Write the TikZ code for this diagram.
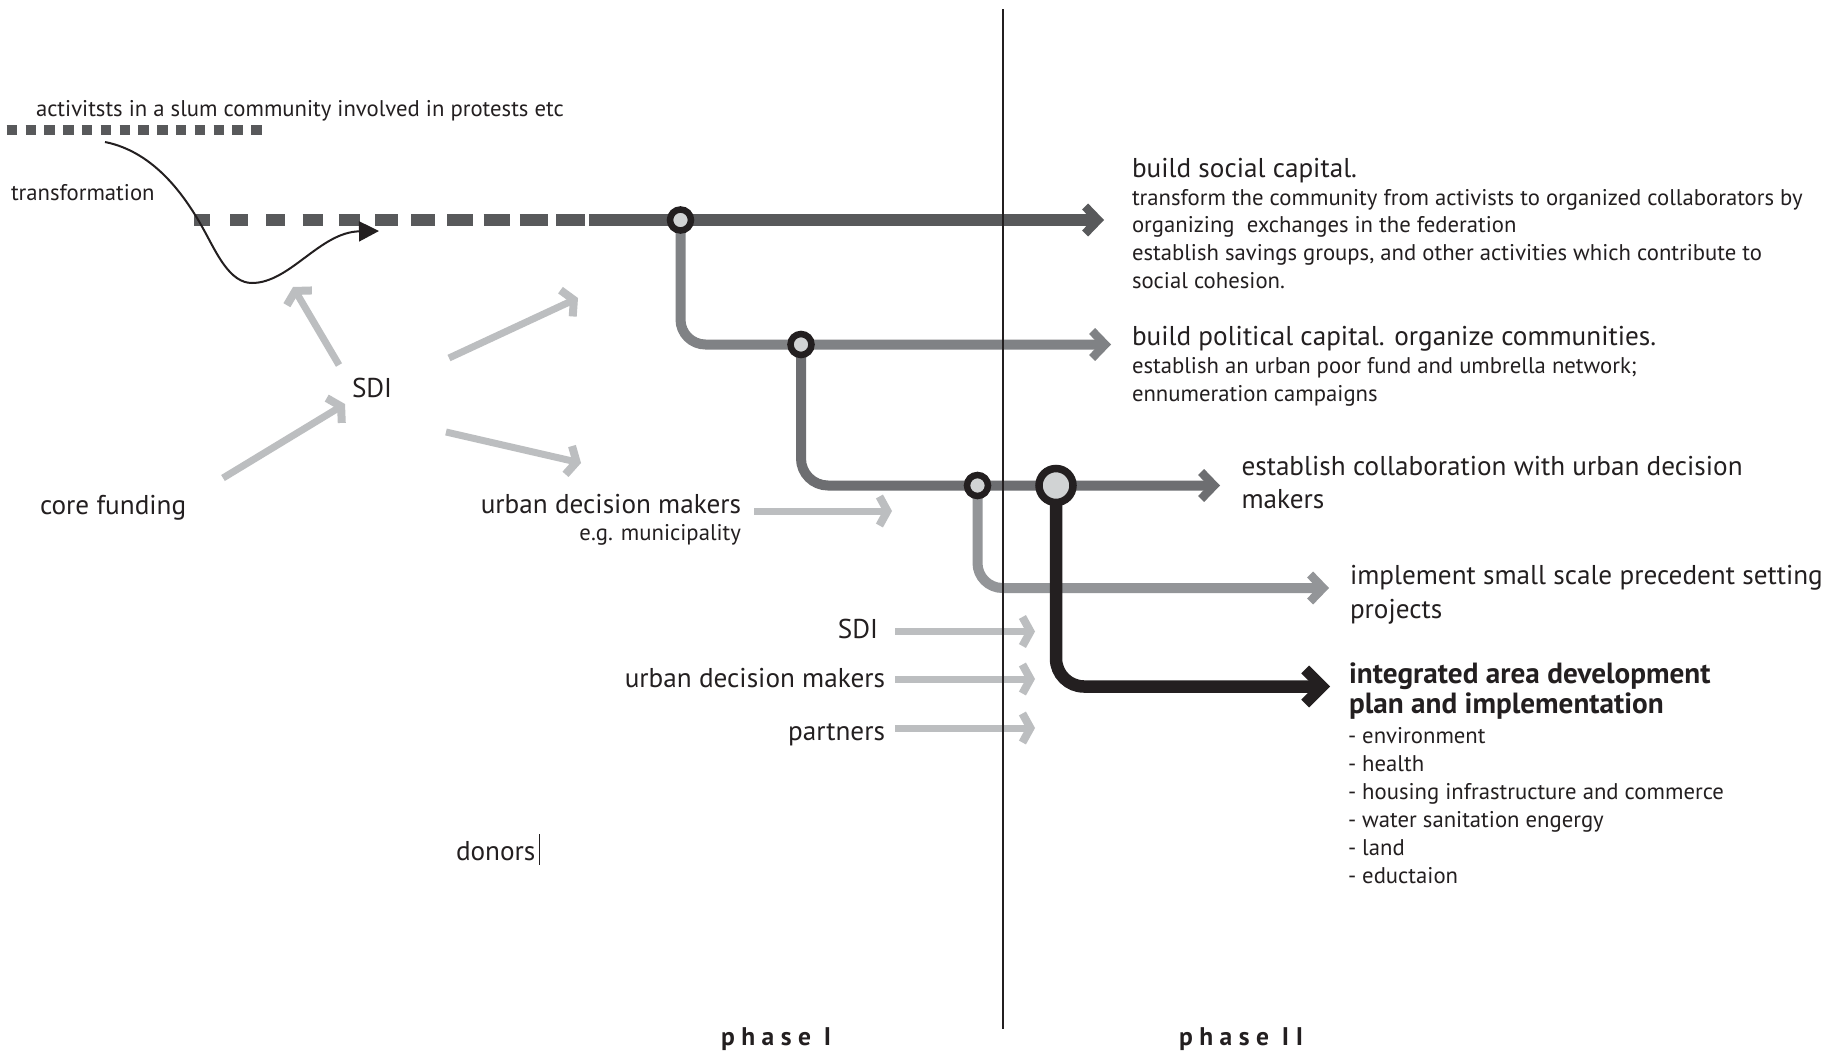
\documentclass[tikz,border=0pt]{standalone}
\usepackage{fontspec}
\setmainfont{PT Sans}
\usetikzlibrary{arrows.meta}
\definecolor{ink}{HTML}{231F20}
\definecolor{gA}{HTML}{58595B}
\definecolor{gB}{HTML}{808285}
\definecolor{gC}{HTML}{6D6E71}
\definecolor{gD}{HTML}{939598}
\definecolor{gE}{HTML}{BCBEC0}
\definecolor{gF}{HTML}{D1D3D4}
\pgfdeclarelayer{bg}
\pgfsetlayers{bg,main}
\newcommand{\lsp}{\kern6.5bp}
\begin{document}
\begin{tikzpicture}[x=1bp,y=-1bp,
  every node/.style={inner sep=0pt, outer sep=0pt, text=ink},
  big/.style={font=\fontsize{27.2bp}{33bp}\selectfont},
  small/.style={font=\fontsize{22.7bp}{28bp}\selectfont},
  bigbold/.style={font=\fontsize{29.2bp}{33bp}\selectfont\bfseries},
  phaselbl/.style={font=\fontsize{25.5bp}{28bp}\selectfont\bfseries},
  ring/.style={circle, draw=ink, fill=gF, inner sep=0pt},
  chevm/.tip={Straight Barb[length=13bp,width=27bp,line width=8.5bp]},
  chevk/.tip={Straight Barb[length=17bp,width=34bp,line width=11bp]},
  chevg/.tip={Straight Barb[length=8bp,width=29bp,line width=8bp]},
  lineA/.style={draw=gA, line width=11.5bp},
  lineB/.style={draw=gB, line width=10bp},
  lineC/.style={draw=gC, line width=10bp},
  lineD/.style={draw=gD, line width=10bp},
  lineK/.style={draw=ink, line width=12.5bp},
  greyarr/.style={draw=gE, line width=7bp, -chevg},
]
\useasboundingbox (0,0) rectangle (1839,1057);

% ---------- junction circles ----------
\node[ring, minimum size=21bp, line width=6.5bp] (c1) at (680.5,220) {};
\node[ring, minimum size=21bp, line width=6.5bp] (c2) at (801,344.5) {};
\node[ring, minimum size=21bp, line width=6.5bp] (c3) at (977.5,485.5) {};
\node[ring, minimum size=34bp, line width=7.5bp] (c4) at (1056,485.5) {};

% ---------- coordinates ----------
\coordinate (a1) at (1104,220);
\coordinate (a2) at (1111,344.5);
\coordinate (a3) at (1220,485.5);
\coordinate (a4) at (1329,588);
\coordinate (a5) at (1330,686.5);
\coordinate (dend) at (589,220);
\coordinate (d0) at (6.7,130);
\coordinate (d1) at (262,130);
\coordinate (t0) at (105,142);
\coordinate (t1) at (205,232);
\coordinate (t2) at (252,283);
\coordinate (t3) at (379,231);
\coordinate (p0) at (1003,9);
\coordinate (p1) at (1003,1029);
\coordinate (cur0) at (539.5,834);
\coordinate (cur1) at (539.5,865);
% grey arrows
\coordinate (g1s) at (339,365); \coordinate (g1e) at (293,287);
\coordinate (g2s) at (449,358); \coordinate (g2e) at (578,298);
\coordinate (g3s) at (446,432); \coordinate (g3e) at (581,463);
\coordinate (g4s) at (223,478); \coordinate (g4e) at (345,404);
\coordinate (g5s) at (754,511); \coordinate (g5e) at (892,511);
\coordinate (g6s) at (895,631.5); \coordinate (g6e) at (1035,631.5);
\coordinate (g7s) at (895,679); \coordinate (g7e) at (1035,679);
\coordinate (g8s) at (895,728); \coordinate (g8e) at (1035,728);

% ---------- lines (background layer) ----------
\begin{pgfonlayer}{bg}
  \fill[white] (0,0) rectangle (1839,1057);
  \draw[lineA, line width=10bp, dash pattern=on 10.5bp off 8.3bp] (d0) -- (d1);
  \foreach \i in {0,...,10} {
    \draw[lineA] ({194+36.2*\i},220) -- ++({16+1.3*\i},0);
  }
  \draw[lineA] (dend) -- (c1);
  \draw[lineA, -chevm] (c1) -- (a1);
  \draw[lineB, -chevm, rounded corners=25bp] (c1) |- (a2);
  \draw[lineC, -chevm, rounded corners=27bp] (c2) |- (a3);
  \draw[lineD, -chevm, rounded corners=25bp] (c3) |- (a4);
  \draw[lineK, -chevk, rounded corners=28bp] (c4) |- (a5);
  \draw[greyarr] (g1s) -- (g1e);
  \draw[greyarr] (g2s) -- (g2e);
  \draw[greyarr] (g3s) -- (g3e);
  \draw[greyarr] (g4s) -- (g4e);
  \draw[greyarr] (g5s) -- (g5e);
  \draw[greyarr] (g6s) -- (g6e);
  \draw[greyarr] (g7s) -- (g7e);
  \draw[greyarr] (g8s) -- (g8e);
\end{pgfonlayer}

% transformation curve
\draw[ink, line width=2bp, -{Triangle[length=20bp,width=20bp]}]
  (t0) .. controls (155,152) and (186,197) .. (t1)
       .. controls (217,254) and (230,283) .. (t2)
       .. controls (290,283) and (320,232) .. (t3);

% phase divider
\draw[ink, line width=1.6bp] (p0) -- (p1);
% text cursor after donors
\draw[ink, line width=1.3bp] (cur0) -- (cur1);

% ---------- left texts ----------
\node[small, anchor=base west] (act) at (36,116) {activitsts in a slum community involved in protests etc};
\node[small, anchor=base west] (trans) at (11,200) {transformation};
\node[big, anchor=base west] (sdi) at (352,397) {SDI};
\node[big, anchor=base west] (core) at (40,514) {core funding};
\node[big, anchor=base east] (udm) at (741,513) {urban decision makers};
\node[small, anchor=base east] (egm) at (741,540) {e.g. municipality};
\node[big, anchor=base east] (sdib) at (878,638) {SDI};
\node[big, anchor=base east] (udmb) at (885,687) {urban decision makers};
\node[big, anchor=base east] (partners) at (885,740) {partners};
\node[big, anchor=base west] (donors) at (456,860) {donors};
\node[phaselbl, anchor=base west] (ph1) at (721,1045) {p\lsp h\lsp a\lsp s\lsp e\lsp\ I};
\node[phaselbl, anchor=base west] (ph2) at (1179,1045) {p\lsp h\lsp a\lsp s\lsp e\lsp\ I\lsp I};

% ---------- right texts ----------
\node[big, anchor=base west] (bsc) at (1132,177) {build social capital.};
\node[small, anchor=base west] (bsca) at (1132,205) {transform the community from activists to organized collaborators by};
\node[small, anchor=base west] (bscb) at (1132,232.7) {organizing\ \ exchanges in the federation};
\node[small, anchor=base west] (bscc) at (1132,260.4) {establish savings groups, and other activities which contribute to};
\node[small, anchor=base west] (bscd) at (1132,288) {social cohesion.};
\node[big, anchor=base west] (bpc) at (1132,345) {build political capital. organize communities.};
\node[small, anchor=base west] (bpca) at (1132,373) {establish an urban poor fund and umbrella network;};
\node[small, anchor=base west] (bpcb) at (1132,401) {ennumeration campaigns};
\node[big, anchor=base west] (ecua) at (1241.5,475) {establish collaboration with urban decision};
\node[big, anchor=base west] (ecub) at (1241.5,508) {makers};
\node[big, anchor=base west] (issa) at (1350,584) {implement small scale precedent setting};
\node[big, anchor=base west] (issb) at (1350,618) {projects};
\node[bigbold, anchor=base west] (iada) at (1349,683) {integrated area development};
\node[bigbold, anchor=base west] (iadb) at (1349,713) {plan and implementation};
\node[small, anchor=base west] (li1) at (1348,743) {- environment};
\node[small, anchor=base west] (li2) at (1348,771) {- health};
\node[small, anchor=base west] (li3) at (1348,799) {- housing infrastructure and commerce};
\node[small, anchor=base west] (li4) at (1348,827) {- water sanitation engergy};
\node[small, anchor=base west] (li5) at (1348,855) {- land};
\node[small, anchor=base west] (li6) at (1348,883) {- eductaion};
\end{tikzpicture}
\end{document}
